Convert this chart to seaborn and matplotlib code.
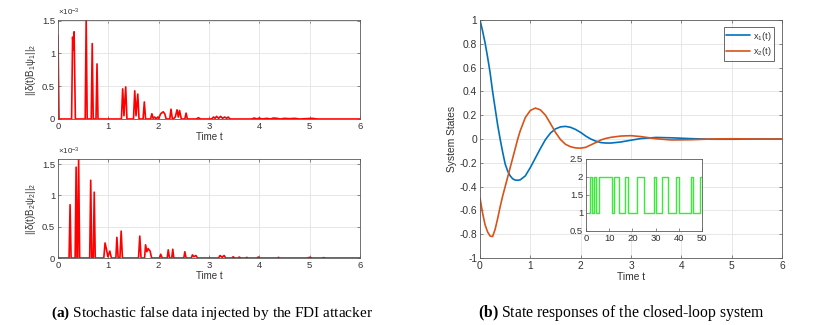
import numpy as np
import pandas as pd
import matplotlib
matplotlib.use("Agg")
import matplotlib.pyplot as plt
from matplotlib.ticker import FuncFormatter, MultipleLocator
from matplotlib.lines import Line2D
import seaborn as sns

# ---------------- data ----------------
# (a) top: ||delta(t) B1 psi1||_2, values in units of 1e-3
top_t = [0, 0.02, 0.27, 0.29, 0.305, 0.32, 0.345, 0.54, 0.56, 0.58, 0.66, 0.68, 0.70,
         0.755, 0.775, 0.795, 1.26, 1.285, 1.31, 1.345, 1.37, 1.50, 1.525, 1.55, 1.585,
         1.61, 1.69, 1.715, 1.74, 1.84, 1.865, 1.89, 1.92, 1.95, 1.98, 2.0, 2.04, 2.09,
         2.12, 2.15, 2.22, 2.245, 2.27, 2.29, 2.33, 2.365, 2.39, 2.415, 2.45, 2.52, 2.545,
         2.57, 2.75, 2.79, 2.83, 3.05, 3.09, 3.12, 3.15, 3.19, 3.23, 3.27, 3.31, 3.35,
         3.38, 3.42, 3.85, 3.9, 3.95, 4.0, 4.05, 4.15, 4.22, 4.28, 4.35, 4.42, 4.5, 4.6,
         4.7, 4.8, 5.05, 5.15, 6.0]
top_v = [1.27, 0, 0, 1.25, 1.05, 1.33, 0, 0, 1.51, 0, 0, 1.15, 0,
         0, 0.84, 0, 0, 0.46, 0.05, 0.49, 0, 0, 0.43, 0.05, 0.38,
         0, 0, 0.26, 0, 0, 0.08, 0.01, 0.03, 0.0, 0.03, 0.01, 0.08, 0.11,
         0.08, 0, 0, 0.15, 0.01, 0, 0.03, 0.14, 0.03, 0.13, 0, 0, 0.09,
         0, 0, 0.02, 0, 0, 0.03, 0.01, 0.04, 0.01, 0.04, 0.01, 0.03, 0.01,
         0.03, 0, 0, 0.015, 0, 0.015, 0, 0.01, 0, 0.015, 0.01, 0, 0.01, 0.005,
         0.01, 0, 0.01, 0, 0]

# (a) bottom: ||delta(t) B2 psi2||_2, values in units of 1e-3
bot_t = [0, 0.22, 0.24, 0.26, 0.34, 0.36, 0.38, 0.39, 0.41, 0.43, 0.63, 0.65, 0.67,
         0.70, 0.72, 0.74, 0.91, 0.935, 0.96, 0.99, 1.03, 1.06, 1.15, 1.17, 1.195,
         1.23, 1.255, 1.28, 1.60, 1.625, 1.65, 1.72, 1.74, 1.765, 1.79, 1.83, 1.86,
         2.02, 2.04, 2.07, 2.17, 2.19, 2.215, 2.26, 2.28, 2.30, 2.50, 2.52, 2.545,
         2.65, 2.67, 2.70, 2.74, 2.77, 3.19, 3.22, 3.26, 3.30, 3.33, 3.46, 3.48, 3.51,
         3.58, 3.6, 3.63, 3.73, 3.75, 3.77, 3.95, 3.98, 4.01, 4.36, 4.38, 4.40, 4.95,
         5.0, 5.05, 5.25, 5.28, 5.31, 6.0]
bot_v = [0, 0, 0.85, 0, 0, 1.45, 0, 0, 1.58, 0, 0, 1.24, 0,
         0, 1.05, 0, 0, 0.24, 0.15, 0.02, 0.11, 0, 0, 0.33, 0,
         0, 0.43, 0, 0, 0.35, 0, 0, 0.21, 0.10, 0.15, 0.11, 0,
         0, 0.06, 0, 0, 0.13, 0.0, 0, 0.14, 0, 0, 0.10, 0,
         0, 0.05, 0.02, 0.04, 0, 0, 0.04, 0.01, 0.04, 0, 0, 0.02, 0,
         0, 0.015, 0, 0, 0.01, 0, 0, 0.015, 0, 0, 0.01, 0, 0,
         0.01, 0, 0, 0.006, 0, 0]

# (b) state responses
state_t = [0, 0.05, 0.1, 0.15, 0.2, 0.25, 0.3, 0.35, 0.4, 0.45, 0.5, 0.55, 0.6, 0.65,
           0.7, 0.75, 0.8, 0.9, 1.0, 1.1, 1.2, 1.3, 1.4, 1.5, 1.6, 1.7, 1.8, 1.9, 2.0,
           2.1, 2.2, 2.3, 2.4, 2.5, 2.6, 2.8, 3.0, 3.2, 3.5, 3.8, 4.2, 4.6, 5.0, 5.5, 6.0]
x1 = [1.0, 0.91, 0.81, 0.69, 0.56, 0.40, 0.26, 0.12, 0.0, -0.11, -0.21, -0.27, -0.31,
      -0.335, -0.345, -0.347, -0.343, -0.31, -0.24, -0.16, -0.08, -0.005, 0.05, 0.085,
      0.102, 0.106, 0.098, 0.08, 0.055, 0.025, 0.0, -0.018, -0.03, -0.034, -0.034,
      -0.025, -0.01, 0.004, 0.013, 0.01, 0.003, -0.002, -0.002, 0.0, 0.0]
x2 = [-0.495, -0.62, -0.72, -0.78, -0.815, -0.82, -0.76, -0.67, -0.57, -0.48, -0.40,
      -0.32, -0.24, -0.16, -0.08, 0.0, 0.07, 0.18, 0.24, 0.26, 0.245, 0.2, 0.13, 0.055,
      -0.005, -0.045, -0.065, -0.075, -0.077, -0.07, -0.05, -0.03, -0.008, 0.005,
      0.014, 0.025, 0.028, 0.02, 0.002, -0.008, -0.006, 0.0, 0.002, 0.0, 0.0]
state_labels = ["x$_1$(t)", "x$_2$(t)"]

# (b) inset: switching signal
sw_t = [1.0, 1.9, 2.6, 3.3, 4.2, 5.8, 11.3, 12.0, 14.3, 17.0, 18.1, 22.0, 25.2, 29.2,
        30.2, 32.7, 35.5, 39.0, 40.0, 45.2, 46.2, 49.0, 50.0]
sw_m = [1, 2, 1, 2, 1, 2, 1, 2, 1, 2, 1, 2, 1, 2, 1, 2, 1, 2, 1, 2, 1, 2, 2]

captions = ["Stochastic false data injected by the FDI attacker",
            "State responses of the closed-loop system"]

# ---------------- style ----------------
sns.set_theme(style="white")
plt.rcParams["font.family"] = ["Liberation Sans", "DejaVu Sans"]
plt.rcParams["mathtext.fontset"] = "custom"
plt.rcParams["mathtext.rm"] = "Liberation Sans"
plt.rcParams["mathtext.it"] = "Liberation Sans:italic"
plt.rcParams["mathtext.bf"] = "Liberation Serif:bold"
plt.rcParams["axes.unicode_minus"] = False

TXT = "#333333"
SPINE = "#5a5a5a"
GRID = "#e3e3e3"

fig = plt.figure(figsize=(8.2, 3.25), dpi=100)
W, H = 820.0, 325.0


def fmt(v, p):
    v = round(v, 8)
    if v == 0:
        v = 0.0
    return f"{v:g}"


def add_ax(x0, y0, x1_, y1_):
    return fig.add_axes([x0 / W, 1 - y1_ / H, (x1_ - x0) / W, (y1_ - y0) / H])


def style_ax(ax, fs, grid=True):
    for s in ax.spines.values():
        s.set_color(SPINE)
        s.set_linewidth(0.6)
    ax.tick_params(direction="in", length=2.5, width=0.5, color=SPINE,
                   labelsize=fs, labelcolor=TXT, top=True, right=True,
                   bottom=True, left=True, pad=2)
    if grid:
        ax.grid(True, color=GRID, linewidth=0.6)
        ax.set_axisbelow(True)
    ax.xaxis.set_major_formatter(FuncFormatter(fmt))
    ax.yaxis.set_major_formatter(FuncFormatter(fmt))


# ---- (a) top ----
ax1 = add_ax(58, 20, 360, 119)
df1 = pd.DataFrame({"t": top_t, "v": top_v})
sns.lineplot(data=df1, x="t", y="v", ax=ax1, color="#ff0000", lw=1.2,
             estimator=None, sort=False)
ax1.set_xlim(0, 6)
ax1.set_ylim(0, max(top_v))
ax1.xaxis.set_major_locator(MultipleLocator(1))
ax1.yaxis.set_major_locator(MultipleLocator(0.5))
style_ax(ax1, 6.8)
ax1.set_xlabel("Time t", fontsize=7.0, color=TXT, labelpad=1)
ax1.set_ylabel(r"||δ(t)B$_1$ψ$_1$||$_2$", fontsize=7.0, color=TXT, labelpad=3)
ax1.text(0.0, 1.02, r"×10$^{-3}$", transform=ax1.transAxes, fontsize=5.8,
         color=TXT, ha="left", va="bottom")

# ---- (a) bottom ----
ax2 = add_ax(58, 159, 360, 258)
df2 = pd.DataFrame({"t": bot_t, "v": bot_v})
sns.lineplot(data=df2, x="t", y="v", ax=ax2, color="#ff0000", lw=1.2,
             estimator=None, sort=False)
ax2.set_xlim(0, 6)
ax2.set_ylim(0, max(bot_v))
ax2.xaxis.set_major_locator(MultipleLocator(1))
ax2.yaxis.set_major_locator(MultipleLocator(0.5))
style_ax(ax2, 6.8)
ax2.set_xlabel("Time t", fontsize=7.0, color=TXT, labelpad=1)
ax2.set_ylabel(r"||δ(t)B$_2$ψ$_2$||$_2$", fontsize=7.0, color=TXT, labelpad=3)
ax2.text(0.0, 1.02, r"×10$^{-3}$", transform=ax2.transAxes, fontsize=5.8,
         color=TXT, ha="left", va="bottom")

# ---- (b) main ----
ax3 = add_ax(480, 20, 782, 258)
dfs = pd.DataFrame({"t": state_t * 2, "v": x1 + x2,
                    "state": [state_labels[0]] * len(state_t) + [state_labels[1]] * len(state_t)})
sns.lineplot(data=dfs, x="t", y="v", hue="state", ax=ax3,
             palette=["#0072BD", "#D95319"], lw=1.2, estimator=None, legend=False)
ax3.set_xlim(0, 6)
ax3.set_ylim(-1, 1)
ax3.xaxis.set_major_locator(MultipleLocator(1))
ax3.yaxis.set_major_locator(MultipleLocator(0.2))
style_ax(ax3, 7.4)
ax3.set_xlabel("Time t", fontsize=7.4, color=TXT, labelpad=1)
ax3.set_ylabel("System States", fontsize=7.4, color=TXT, labelpad=2)
handles = [Line2D([], [], color="#0072BD", lw=1.2), Line2D([], [], color="#D95319", lw=1.2)]
leg = ax3.legend(handles, state_labels, loc="upper right", bbox_to_anchor=(0.974, 0.971),
                 fontsize=6.6, frameon=True, fancybox=False, handlelength=2.6,
                 handletextpad=0.3, borderpad=0.3, labelspacing=0.3, borderaxespad=0)
leg.get_frame().set_edgecolor("#262626")
leg.get_frame().set_linewidth(0.6)
for t in leg.get_texts():
    t.set_color(TXT)

# ---- (b) inset ----
ax4 = add_ax(586, 159, 702, 231)
dfw = pd.DataFrame({"t": sw_t, "m": sw_m})
sns.lineplot(data=dfw, x="t", y="m", ax=ax4, color="#33ee33", lw=1.0,
             drawstyle="steps-post", estimator=None, sort=False)
ax4.set_xlim(0, 50)
ax4.set_ylim(0.5, 2.5)
ax4.xaxis.set_major_locator(MultipleLocator(10))
ax4.yaxis.set_major_locator(MultipleLocator(0.5))
style_ax(ax4, 6.8, grid=False)
ax4.tick_params(top=False, right=False)
ax4.set_xlabel("")
ax4.set_ylabel("")
ax4.set_facecolor("white")

# ---- captions ----
fig.text(212 / W, 1 - 313 / H, r"$\mathbf{(a)}$ " + captions[0], ha="center", va="center",
         fontsize=11, family="Liberation Serif", color="black")
fig.text(622 / W, 1 - 313 / H, r"$\mathbf{(b)}$ " + captions[1], ha="center", va="center",
         fontsize=11.3, family="Liberation Serif", color="black")

fig.savefig("out.png", dpi=100, facecolor="white")
